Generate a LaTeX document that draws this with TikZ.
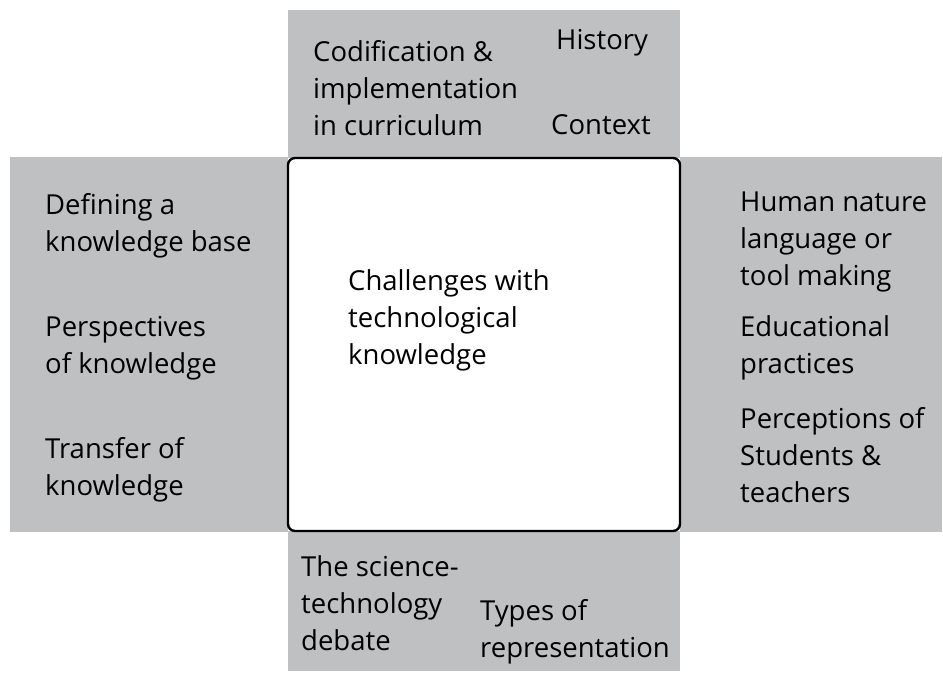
\documentclass[tikz,border=0pt]{standalone}
\usepackage{fontspec}
\setmainfont{Open Sans}
\definecolor{armgrey}{RGB}{191,192,194}
\tikzstyle{arm}=[fill=armgrey]
\tikzstyle{core}=[draw, line width=2.4pt, rounded corners=7pt, fill=white]
\tikzstyle{txt}=[align=left, anchor=base west, inner sep=0pt,
  font=\fontsize{27.5}{37}\selectfont]
\usetikzlibrary{positioning}

\begin{document}
\begin{tikzpicture}[x=1pt,y=-1pt]
\useasboundingbox (0,0) rectangle (943,673);
% grey cross
\fill[arm] (288,10) rectangle (680,158);
\fill[arm] (10,157) rectangle (288,532);
\fill[arm] (680,157) rectangle (942,532);
\fill[arm] (288,531) rectangle (680,671);
\node (box) [core, minimum width=392pt, minimum height=373pt] at (484,344.5) {};
% anchors sit on the last line
\node (chal) [txt] at (348,364) {Challenges with\\technological\\knowledge};

% top
\node (codif) [txt] at (313,135) {Codification \&\\implementation\\in curriculum};
\node (hist) [txt] at (556,49) {History};
\node (ctx) [txt] at (551,134) {Context};

% left
\node (kbase) [txt] at (45,251) {Defining a\\knowledge base};
\node (persp) [txt] at (45,373) {Perspectives\\of knowledge};
\node (trans) [txt] at (45,495) {Transfer of\\knowledge};

% right
\node (human) [txt] at (740,285) {Human nature\\language or\\tool making};
\node (edu) [txt] at (740,373) {Educational\\practices};
\node (percep) [txt] at (740,502) {Perceptions of\\Students \&\\teachers};

% bottom
\node (debate) [txt] at (301,650) {The science-\\technology\\debate};
\node (repr) [txt] at (480,657) {Types of\\representation};

\end{tikzpicture}
\end{document}
